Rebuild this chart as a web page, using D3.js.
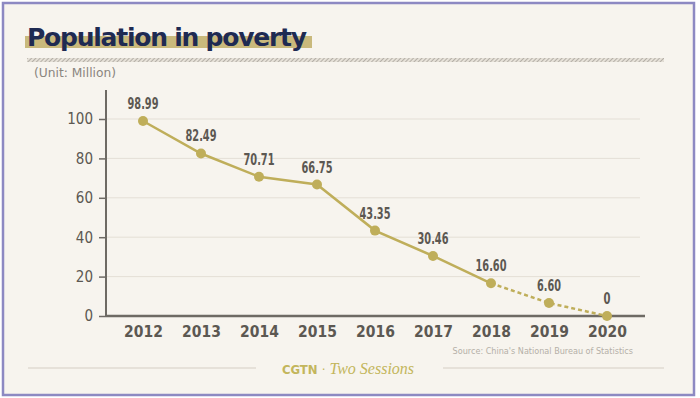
<!DOCTYPE html>
<html>
<head>
<meta charset="utf-8">
<script src="https://cdn.jsdelivr.net/npm/d3@7"></script>
<style>
  body { margin: 0; background: #ffffff; }
  svg { display: block; }
</style>
</head>
<body>
<script>
// data
const years = ["2012", "2013", "2014", "2015", "2016", "2017", "2018", "2019", "2020"];
const poverty = [98.99, 82.49, 70.71, 66.75, 43.35, 30.46, 16.60, 6.60, 0];
const valueLabels = ["98.99", "82.49", "70.71", "66.75", "43.35", "30.46", "16.60", "6.60", "0"];
const yTicks = [0, 20, 40, 60, 80, 100];
// index where the dashed (projected) part starts
const dashFrom = 6;

const W = 700, H = 398;
const gold = "#bfae5a";
const axisGrey = "#6e6a64";

let svg = d3.select("body").append("svg")
  .attr("width", W)
  .attr("height", H);

// hatch pattern for the rule under the title
let defs = svg.append("defs");
let pat = defs.append("pattern")
  .attr("id", "hatch")
  .attr("width", 3).attr("height", 3)
  .attr("patternUnits", "userSpaceOnUse")
  .attr("patternTransform", "rotate(45)");
pat.append("rect").attr("width", 3).attr("height", 3).attr("fill", "#e6e1d8");
pat.append("line").attr("x1", 0).attr("y1", 0).attr("x2", 0).attr("y2", 3)
  .attr("stroke", "#a8a39b").attr("stroke-width", 1.6);

// background card with border
svg.append("rect")
  .attr("x", 3).attr("y", 3)
  .attr("width", 691).attr("height", 392)
  .attr("fill", "#f7f4ee")
  .attr("stroke", "#8d89c2")
  .attr("stroke-width", 2.5);

// title with highlight bar
svg.append("rect")
  .attr("x", 25).attr("y", 36)
  .attr("width", 287).attr("height", 12)
  .attr("fill", "#c9b97c");
svg.append("text")
  .attr("x", 27).attr("y", 46)
  .attr("font-family", "'DejaVu Sans', sans-serif")
  .attr("font-weight", "bold")
  .attr("font-size", 25)
  .attr("fill", "#1e2a52")
  .attr("textLength", 280)
  .text("Population in poverty");

svg.append("rect")
  .attr("x", 27).attr("y", 58)
  .attr("width", 637).attr("height", 4)
  .attr("fill", "url(#hatch)");

svg.append("text")
  .attr("x", 34).attr("y", 77)
  .attr("font-family", "'DejaVu Sans Condensed', sans-serif")
  .attr("font-size", 12)
  .attr("fill", "#8a857e")
  .attr("lengthAdjust", "spacingAndGlyphs")
  .attr("textLength", 82)
  .text("(Unit: Million)");

// scales
let x = d3.scalePoint()
  .domain(years)
  .range([143, 607]);

let y = d3.scaleLinear()
  .domain([0, 100])
  .range([316, 119]);

const plotLeft = 106, plotRight = 645;

// gridlines
svg.append("g")
  .selectAll("line")
  .data(yTicks.filter(d => d > 0))
  .enter().append("line")
  .attr("x1", plotLeft).attr("x2", 640)
  .attr("y1", d => y(d)).attr("y2", d => y(d))
  .attr("stroke", "#e4dfd6")
  .attr("stroke-width", 1);

// y axis
let yAxis = svg.append("g")
  .attr("transform", `translate(${plotLeft},0)`)
  .call(d3.axisLeft(y).tickValues(yTicks).tickSize(7).tickPadding(6));
yAxis.select(".domain").remove();
yAxis.selectAll(".tick line").attr("stroke", axisGrey).attr("stroke-width", 1.5);
yAxis.selectAll(".tick text")
  .attr("font-family", "'DejaVu Sans Condensed', sans-serif")
  .attr("font-size", 15)
  .attr("fill", "#5c5852");

svg.append("line")
  .attr("x1", plotLeft).attr("x2", plotLeft)
  .attr("y1", 90).attr("y2", 317)
  .attr("stroke", axisGrey).attr("stroke-width", 2);

// x axis
let xAxis = svg.append("g")
  .attr("transform", "translate(0,316)")
  .call(d3.axisBottom(x).tickSize(0).tickPadding(10));
xAxis.select(".domain").remove();
xAxis.selectAll(".tick text")
  .attr("font-family", "'DejaVu Sans Condensed', sans-serif")
  .attr("font-weight", "bold")
  .attr("font-size", 15.5)
  .attr("fill", "#5c5852");

svg.append("line")
  .attr("x1", plotLeft).attr("x2", plotRight)
  .attr("y1", 316).attr("y2", 316)
  .attr("stroke", axisGrey).attr("stroke-width", 2.5);

// line: solid then dashed
let pts = years.map((yr, i) => ({ year: yr, value: poverty[i], label: valueLabels[i] }));
let line = d3.line().x(d => x(d.year)).y(d => y(d.value));

svg.append("path")
  .datum(pts.slice(0, dashFrom + 1))
  .attr("d", line)
  .attr("fill", "none")
  .attr("stroke", gold)
  .attr("stroke-width", 2.5);

svg.append("path")
  .datum(pts.slice(dashFrom))
  .attr("d", line)
  .attr("fill", "none")
  .attr("stroke", gold)
  .attr("stroke-width", 2.5)
  .attr("stroke-dasharray", "4,3");

svg.selectAll("circle.pt")
  .data(pts)
  .enter().append("circle")
  .attr("class", "pt")
  .attr("cx", d => x(d.year))
  .attr("cy", d => y(d.value))
  .attr("r", 5)
  .attr("fill", gold);

// condensed value labels: squeeze to narrow width like the original
svg.selectAll("text.val")
  .data(pts)
  .enter().append("text")
  .attr("class", "val")
  .attr("x", d => x(d.year))
  .attr("y", d => y(d.value) - 12)
  .attr("text-anchor", "middle")
  .attr("font-family", "'DejaVu Sans Condensed', sans-serif")
  .attr("font-weight", "bold")
  .attr("font-size", 15)
  .attr("fill", "#5c5852")
  .attr("lengthAdjust", "spacingAndGlyphs")
  .attr("textLength", d => d.label.replace(".", "").length * 7 + (d.label.includes(".") ? 3 : 0))
  .text(d => d.label);

// source
svg.append("text")
  .attr("x", 633).attr("y", 354)
  .attr("text-anchor", "end")
  .attr("font-family", "'DejaVu Sans Condensed', sans-serif")
  .attr("font-size", 9)
  .attr("fill", "#b5b0a8")
  .text("Source: China's National Bureau of Statistics");

// footer
svg.append("line")
  .attr("x1", 28).attr("x2", 256)
  .attr("y1", 368).attr("y2", 368)
  .attr("stroke", "#e0dbd2").attr("stroke-width", 1.5);
svg.append("line")
  .attr("x1", 443).attr("x2", 664)
  .attr("y1", 368).attr("y2", 368)
  .attr("stroke", "#e0dbd2").attr("stroke-width", 1.5);

let foot = svg.append("text")
  .attr("x", 348).attr("y", 374)
  .attr("text-anchor", "middle")
  .attr("fill", "#c3b65c");
foot.append("tspan")
  .attr("font-family", "'DejaVu Sans Condensed', sans-serif")
  .attr("font-weight", "bold")
  .attr("font-size", 13)
  .text("CGTN");
foot.append("tspan")
  .attr("font-family", "'DejaVu Sans', sans-serif")
  .attr("font-size", 12)
  .attr("dx", 4)
  .text("·");
foot.append("tspan")
  .attr("font-family", "'Liberation Serif', serif")
  .attr("font-style", "italic")
  .attr("font-size", 16)
  .attr("dx", 4)
  .text("Two Sessions");
</script>
</body>
</html>
